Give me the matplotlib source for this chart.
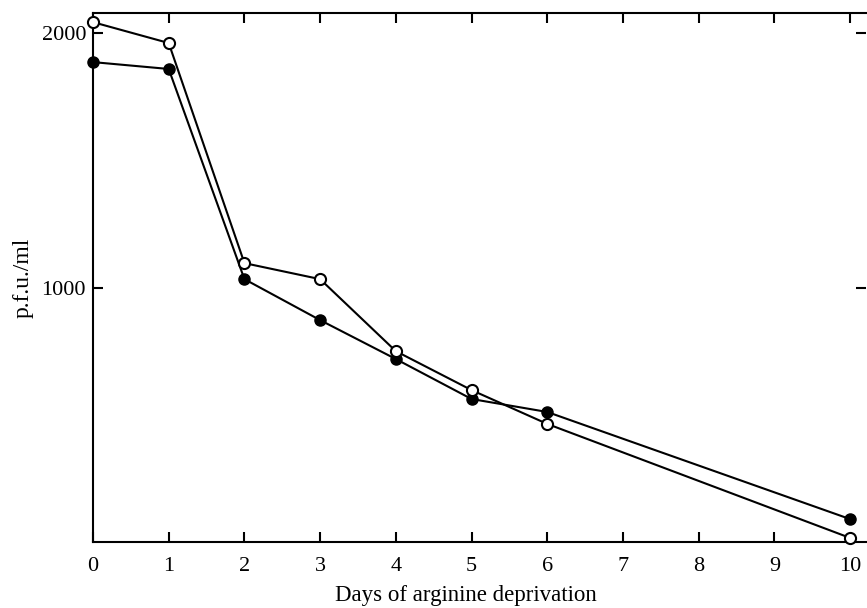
import matplotlib
matplotlib.use("Agg")
import matplotlib.pyplot as plt

days = [0, 1, 2, 3, 4, 5, 6, 10]
filled_pfu = [1886, 1859, 1033, 872, 719, 562, 511, 90]
open_pfu = [2043, 1961, 1096, 1033, 750, 597, 464, 16]
x_ticks = list(range(0, 11))
y_ticks = [1000, 2000]

plt.rcParams['font.family'] = ['Liberation Serif', 'DejaVu Serif']

fig = plt.figure(figsize=(8.67, 6.08), dpi=100)
ax = fig.add_axes([93/867, 1 - 542/608, (866 - 93)/867, (542 - 13)/608])

ax.plot(days, filled_pfu, color='black', lw=1.5, marker='o', ms=8,
        mfc='black', mec='black', zorder=3, clip_on=False)
ax.plot(days, open_pfu, color='black', lw=1.5, marker='o', ms=8,
        mfc='white', mec='black', mew=1.5, zorder=3, clip_on=False)

ax.set_xlim(0, 10.21)
ax.set_ylim(0, 2079)
ax.set_xticks(x_ticks)
ax.set_yticks(y_ticks)
ax.set_yticklabels([str(v) for v in y_ticks])
ax.tick_params(direction='in', length=7, width=1.5, labelsize=16,
               top=True, right=True, colors='black')
ax.tick_params(axis='x', pad=11)
ax.tick_params(axis='y', pad=5)
ax.spines['right'].set_visible(False)
for s in ['left', 'bottom', 'top']:
    ax.spines[s].set_linewidth(1.5)

ax.set_xlabel('Days of arginine deprivation', fontsize=16.5, va='center')
ax.xaxis.set_label_coords((466 - 93) / 773, -(596 - 542) / 529)
ax.set_ylabel('p.f.u./ml', fontsize=17, labelpad=6)

fig.savefig('out.png', dpi=100)
